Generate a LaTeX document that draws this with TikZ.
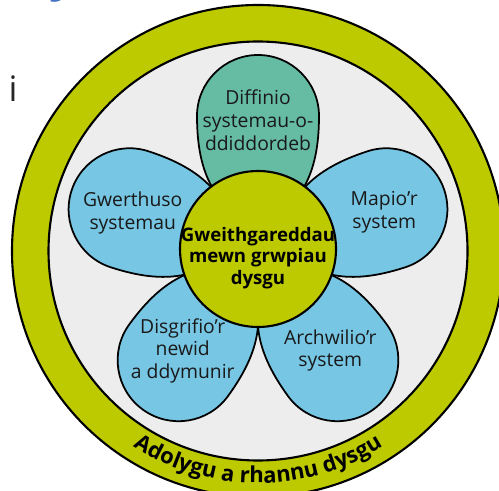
\documentclass[tikz,border=0pt]{standalone}
\usepackage{fontspec}
\setmainfont{Open Sans}
\usetikzlibrary{decorations.text, calc}

\definecolor{ringgreen}{RGB}{190,202,0}
\definecolor{petalblue}{RGB}{118,198,228}
\definecolor{petalteal}{RGB}{102,187,163}
\definecolor{discgray}{RGB}{237,237,237}
\definecolor{headblue}{RGB}{68,114,196}

\tikzset{
  petal/.style={draw=black, line width=1pt},
  petaltext/.style={font=\fontsize{11}{13}\selectfont, align=center, text=black!90},
  hubtext/.style={font=\bfseries\fontsize{10.6}{12.2}\selectfont, align=center},
}

\begin{document}
\begin{tikzpicture}[x=0.02cm, y=0.02cm]
  % blodyn dysgu
    \def\rout{246}
    \def\rin{209.5}
    \useasboundingbox (0,0) rectangle (499,490);
    \clip (0,0) rectangle (499,490);
    \coordinate (c) at (258,239);
    \node[anchor=base west, text=headblue, font=\bfseries\fontsize{28}{28}\selectfont] (head) at (12,499) {Cylchoedd};
    \node[anchor=base, text=black!85, font=\fontsize{20}{20}\selectfont] (info) at (13,388) {i};
    \draw[line width=1.2pt, fill=ringgreen] (c) circle (\rout);
    \draw[line width=1.2pt, fill=discgray] (c) circle (\rin);
    \path[decorate, decoration={text along path, text align=center,
      text={|\bfseries\fontsize{12.5}{13}\selectfont|Adolygu a rhannu dysgu}}]
      (c) ++(234:232) arc (234:306:232);
    \foreach \ang/\col in {90/petalteal, 18/petalblue, -54/petalblue, -126/petalblue, 162/petalblue}
      \draw[petal, fill=\col, shift={(c)}, rotate=\ang]
        (20,0) .. controls (45,-42) and (75,-61) .. (135,-61)
        arc (-90:90:61) .. controls (75,61) and (45,42) .. (20,0) -- cycle;
    \draw[line width=1.2pt, fill=ringgreen] (258,241) circle (78);
    \node[hubtext] (hub) at (258,232) {Gweithgareddau\\mewn grwpiau\\dysgu};
    \node[petaltext] (diff) at ($(c)+(90:131)$) {Diffinio\\systemau-o-\\ddiddordeb};
    \node[petaltext] (mapio) at ($(c)+(17:132)$) {Mapio'r\\system};
    \node[petaltext] (archw) at ($(c)+(-54:123)$) {Archwilio'r\\system};
    \node[petaltext] (disgr) at ($(c)+(-127:125)$) {Disgrifio'r\\newid\\a ddymunir};
    \node[petaltext] (gwerth) at ($(c)+(163:131)$) {Gwerthuso\\systemau};
  \end{tikzpicture}
\end{document}
